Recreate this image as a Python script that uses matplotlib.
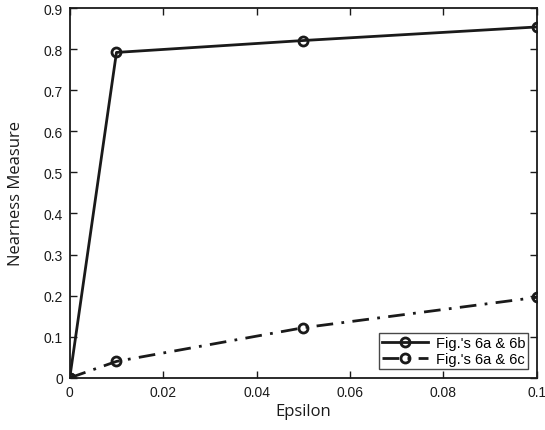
import matplotlib
matplotlib.use("Agg")
import matplotlib.pyplot as plt

# nearness measure vs epsilon
epsilon = [0, 0.01, 0.05, 0.1]
near_6b = [0, 0.792, 0.821, 0.854]
near_6c = [0, 0.040, 0.122, 0.196]
labels = ["Fig.'s 6a & 6b", "Fig.'s 6a & 6c"]
xticks = [0, 0.02, 0.04, 0.06, 0.08, 0.1]
yticks = [0, 0.1, 0.2, 0.3, 0.4, 0.5, 0.6, 0.7, 0.8, 0.9]

fig = plt.figure(figsize=(5.45, 4.31), dpi=100)
ax = fig.add_axes([0.128, 0.121, 0.857, 0.858])

ax.plot(epsilon, near_6b, "-", color="#1a1a1a", lw=2, marker="o", ms=6.5,
        mfc="none", mew=2, label=labels[0])
ax.plot(epsilon, near_6c, color="#1a1a1a", lw=2, dashes=(6, 3, 1, 3), marker="o", ms=6.5,
        mfc="none", mew=2, label=labels[1])

ax.set_xlim(0, 0.1)
ax.set_ylim(0, 0.9)
ax.set_xticks(xticks)
ax.set_xticklabels(["0", "0.02", "0.04", "0.06", "0.08", "0.1"])
ax.set_yticks(yticks)
ax.set_yticklabels(["0"] + ["%.1f" % v for v in yticks[1:]])
ax.tick_params(direction="in", top=True, right=True, length=5, width=1,
               labelsize=10, colors="#1a1a1a", pad=5)
for lbl in ax.get_xticklabels() + ax.get_yticklabels():
    lbl.set_family("Liberation Sans")
for s in ax.spines.values():
    s.set_linewidth(1.3)
    s.set_color("#1a1a1a")

ax.set_xlabel("Epsilon", fontsize=12, family="Open Sans", color="#1a1a1a", labelpad=3)
ax.set_ylabel("Nearness Measure", fontsize=12, family="Open Sans", color="#1a1a1a", labelpad=14)

leg = ax.legend(loc="lower right", fancybox=False, prop={"family": "Liberation Sans", "size": 10.5},
                borderaxespad=0.6, handlelength=3.2, labelspacing=0.15, borderpad=0.2,
                handletextpad=0.5)
leg.get_frame().set_edgecolor("#1a1a1a")
leg.get_frame().set_linewidth(1)

fig.savefig("out.png", dpi=100)
